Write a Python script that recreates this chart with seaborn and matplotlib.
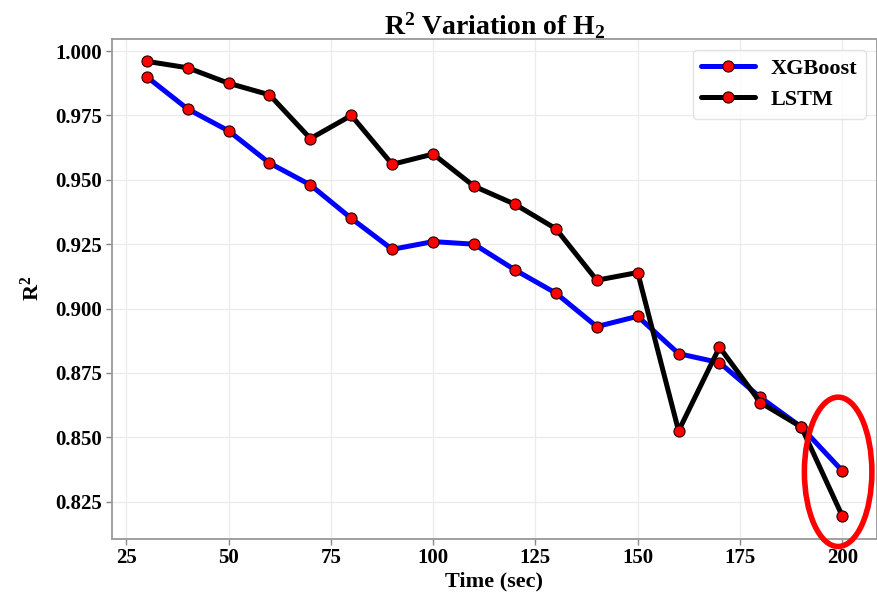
import matplotlib
matplotlib.use("Agg")
import matplotlib.pyplot as plt
from matplotlib.patches import Ellipse
import seaborn as sns
import pandas as pd

time_sec = [30, 40, 50, 60, 70, 80, 90, 100, 110, 120, 130, 140, 150, 160, 170, 180, 190, 200]
xgboost_r2 = [0.990, 0.9775, 0.969, 0.9565, 0.948, 0.935, 0.923, 0.926, 0.925, 0.915,
              0.906, 0.893, 0.897, 0.8825, 0.879, 0.8655, 0.854, 0.837]
lstm_r2 = [0.996, 0.9935, 0.9875, 0.983, 0.966, 0.975, 0.956, 0.960, 0.9475, 0.9405,
           0.931, 0.911, 0.914, 0.8525, 0.885, 0.8635, 0.854, 0.8195]
x_ticks = [25, 50, 75, 100, 125, 150, 175, 200]
y_ticks = [0.825, 0.850, 0.875, 0.900, 0.925, 0.950, 0.975, 1.000]

sns.set_theme(style="whitegrid")
plt.rcParams["font.family"] = ["Liberation Serif", "DejaVu Serif"]
plt.rcParams["mathtext.fontset"] = "custom"
plt.rcParams["mathtext.rm"] = "Liberation Serif:bold"
plt.rcParams["mathtext.it"] = "Liberation Serif:bold"
plt.rcParams["mathtext.bf"] = "Liberation Serif:bold"
plt.rcParams["text.color"] = "black"
plt.rcParams["axes.labelcolor"] = "black"
plt.rcParams["xtick.color"] = "black"
plt.rcParams["ytick.color"] = "black"

fig = plt.figure(figsize=(8.77, 5.95), dpi=100)
ax = fig.add_axes([0.1277, 0.0948, 0.8723, 0.8403])

df_x = pd.DataFrame({"t": time_sec, "r2": xgboost_r2})
df_l = pd.DataFrame({"t": time_sec, "r2": lstm_r2})

common = dict(marker="o", markersize=8, markerfacecolor="red", markeredgecolor="#220000",
              markeredgewidth=0.8, linewidth=3.6)
sns.lineplot(data=df_x, x="t", y="r2", ax=ax, color="blue", label="XGBoost", **common)
sns.lineplot(data=df_l, x="t", y="r2", ax=ax, color="black", label="LSTM", **common)

ax.set_xticks(x_ticks)
ax.set_yticks(y_ticks)
ax.set_yticklabels([f"{v:.3f}" for v in y_ticks])
for lab in ax.get_xticklabels() + ax.get_yticklabels():
    lab.set_fontweight("bold")
    lab.set_fontsize(15)
    lab.set_color("black")
ax.tick_params(axis="both", which="major", length=4, width=1, color="#888888",
               left=True, bottom=True, pad=3)

ax.grid(True, color="#ebebeb", linewidth=0.9)
for s in ax.spines.values():
    s.set_color("#999999")
    s.set_linewidth(1.3)

ax.set_xlabel("Time (sec)", fontsize=16, fontweight="bold", labelpad=2, color="black")
ax.set_ylabel(r"R$^2$", fontsize=16, fontweight="bold", labelpad=8, color="black")
ax.set_title(r"R$^2$ Variation of H$_2$", fontsize=20, fontweight="bold", pad=3, color="black")

leg = ax.legend(loc="upper right", prop={"weight": "bold", "size": 16}, frameon=True,
                handlelength=2.4, handletextpad=0.7, borderpad=0.4, labelspacing=0.45,
                fancybox=True)
leg.get_frame().set_edgecolor("#dddddd")
for t in leg.get_texts():
    t.set_color("black")

ell = Ellipse((199.0, 0.8366), width=16.5, height=0.058, fill=False, edgecolor="red",
              linewidth=4, clip_on=False, zorder=5)
ax.add_patch(ell)

fig.savefig("out.png", dpi=100)
